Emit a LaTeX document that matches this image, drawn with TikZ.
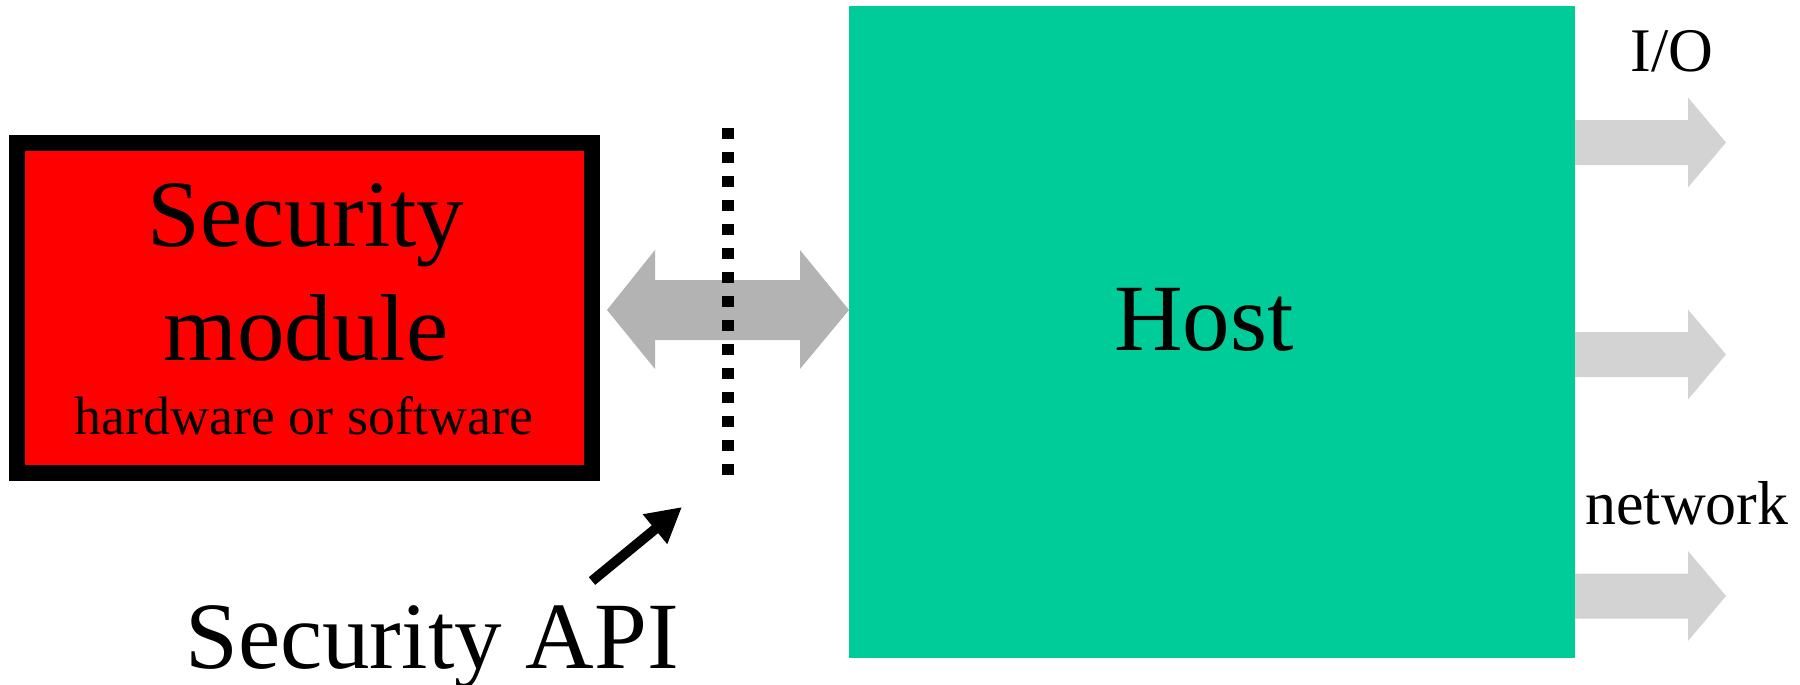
\documentclass[tikz,border=0pt]{standalone}
\usepackage{fontspec}
\setmainfont{Liberation Serif}
\usetikzlibrary{arrows.meta}
\definecolor{hostgreen}{HTML}{00CC99}
\definecolor{biggray}{HTML}{B3B3B3}
\definecolor{smallgray}{HTML}{D3D3D3}
\tikzset{
  bigtext/.style={font=\fontsize{95}{95}\selectfont, inner sep=0, anchor=base},
  medtext/.style={font=\fontsize{54}{54}\selectfont, inner sep=0, anchor=base},
  labtext/.style={font=\fontsize{62}{62}\selectfont, inner sep=0, anchor=base},
  bigarrow/.style={fill=biggray},
  outarrow/.style={fill=smallgray},
  apiline/.style={line width=10pt, -{Triangle[length=35pt,width=36pt]}},
  apidots/.style={line width=12pt, dash pattern=on 11pt off 13pt}
}
\begin{document}
\begin{tikzpicture}[x=1pt,y=-1pt]
\useasboundingbox (0,0) rectangle (1800,685);
% boxes
\node[fill=red, draw=black, line width=16pt, minimum width=575pt, minimum height=330pt, inner sep=0, outer sep=0] (sm) at (304.5,308) {};
\node[fill=hostgreen, minimum width=726pt, minimum height=652pt, inner sep=0, outer sep=0] (host) at (1212,332) {};
% texts
\node[bigtext] (smt1) at (306,246) {Security};
\node[bigtext] (smt2) at (306,360) {module};
\node[medtext] (smt3) at (304,434) {hardware or software};
\node[bigtext] (hostt) at (1204,350) {Host};
\node[labtext] (io) at (1672,72) {I/O};
\node[labtext] (net) at (1687,524) {network};
\node[bigtext] (api) at (432,668) {Security API};
% double arrow between module and host
\fill[bigarrow] (607,310) -- (655,250) -- (655,280) -- (800,280) -- (800,250) -- (849,310)
  -- (800,369) -- (800,340) -- (655,340) -- (655,369) -- cycle;
% dotted API boundary
\coordinate (dtop) at (728,128);
\coordinate (dbot) at (728,475);
\draw[apidots] (dtop) -- (dbot);
% outgoing arrows
\foreach \c in {142.5,354.5,596}{
  \fill[outarrow] (1575,{\c-22.5}) -- (1688,{\c-22.5}) -- (1688,{\c-45}) -- (1726,\c)
    -- (1688,{\c+45}) -- (1688,{\c+22.5}) -- (1575,{\c+22.5}) -- cycle;
}
% Security API pointer
\coordinate (apitail) at (592,581);
\coordinate (apitip) at (682,507);
\draw[apiline] (apitail) -- (apitip);
\end{tikzpicture}
\end{document}
